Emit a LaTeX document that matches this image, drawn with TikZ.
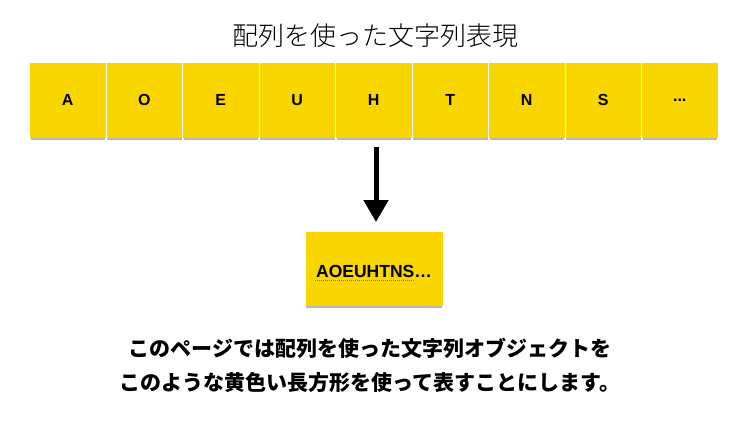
\documentclass[tikz,border=0pt]{standalone}
\usepackage{fontspec}
\setmainfont{Liberation Sans}
\newfontfamily\cjk{Noto Sans CJK JP}
\newfontfamily\cjklight{Noto Sans CJK JP Light}
\usetikzlibrary{arrows.meta}
\definecolor{boxyellow}{RGB}{249,214,0}
\definecolor{shadowgray}{RGB}{165,165,165}
\definecolor{spellred}{RGB}{235,70,30}
\newcommand\celldots{...}
\tikzset{
  cell/.style={fill=boxyellow, draw=none, minimum width=75.5pt, minimum height=75pt, inner sep=0pt, font=\fontsize{16}{18}\selectfont\bfseries},
  result/.style={fill=boxyellow, draw=none, minimum width=137pt, minimum height=74pt, inner sep=0pt},
  bigarrow/.style={line width=5pt, -{Triangle[width=24pt,length=22pt]}},
}
\begin{document}
\begin{tikzpicture}[x=1pt,y=-1pt]
\useasboundingbox (0,0) rectangle (749,421);
% title
\node[font=\cjklight\fontsize{26}{30}\selectfont] (title) at (375,36) {配列を使った文字列表現};
% cells
\foreach \i/\t in {1/A,2/O,3/E,4/U,5/H,6/T,7/N,8/S,9/\celldots}{
  \pgfmathsetmacro{\cx}{30+37.75+(\i-1)*76.5}
  \fill[shadowgray, opacity=0.8] (\cx-37.75+0.5,101.5) rectangle (\cx+37.75-0.5,139.5);
  \node[cell] (b\i) at (\cx,100.2) {\t};
}
% result box
\fill[shadowgray, opacity=0.8] (306.2,275) rectangle (442.2,307.5);
\node[result] (res) at (374.2,269.2) {};
\node[font=\fontsize{17.5}{20}\selectfont\bfseries, inner sep=0pt, anchor=base] (restext) at (374,277) {AOEUHTNS…};
\draw[spellred, line width=1pt, dash pattern=on 1pt off 1pt] (315,280.5) -- (415,280.5);
% arrow
\coordinate (astart) at (376,147);
\coordinate (aend) at (376,222);
\draw[bigarrow] (astart) -- (aend);
% caption
\node[font=\cjk\bfseries\fontsize{21}{34}\selectfont, align=center] (cap) at (370,365) {このページでは配列を使った文字列オブジェクトを\\このような黄色い長方形を使って表すことにします。};
\end{tikzpicture}
\end{document}
